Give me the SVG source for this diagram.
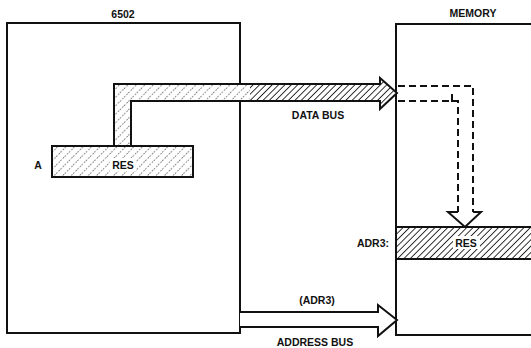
<svg xmlns="http://www.w3.org/2000/svg" width="531" height="348" viewBox="0 0 531 348">
<style>
.t{font-family:"Liberation Sans",Arial,sans-serif;font-weight:bold;font-size:10.5px;fill:#111}
.box{fill:#fff;stroke:#111;stroke-width:2}
.ln{fill:none;stroke:#111;stroke-width:2}
.dash{fill:none;stroke:#111;stroke-width:2;stroke-dasharray:7,4}
</style>
<defs>
<pattern id="hatch" patternUnits="userSpaceOnUse" width="4.5" height="4.5" patternTransform="rotate(45)">
<rect width="4.5" height="4.5" fill="#fff"/>
<line x1="0" y1="0" x2="0" y2="4.5" stroke="#111" stroke-width="1.7"/>
</pattern>
<pattern id="stip" patternUnits="userSpaceOnUse" width="6" height="6" patternTransform="rotate(45)">
<rect width="6" height="6" fill="#fff"/>
<line x1="0" y1="0" x2="0" y2="6" stroke="#111" stroke-width="1.2" stroke-dasharray="1.5,2"/>
</pattern>
<clipPath id="right"><rect x="250" y="0" width="281" height="348"/></clipPath>
</defs>

<g id="cpu">
<rect class="box" x="7" y="23" width="233" height="310"/>
<text class="t" x="123" y="18" text-anchor="middle">6502</text>
</g>

<g id="memory">
<path class="ln" d="M531,24 H396 V335 H531"/>
<text class="t" x="473" y="17" text-anchor="middle">MEMORY</text>
</g>

<g id="adr3-row">
<rect x="396" y="227" width="140" height="32" fill="url(#hatch)" stroke="#111" stroke-width="2"/>
<rect x="453" y="236" width="27" height="13" fill="#fff"/>
<text class="t" x="466" y="247" text-anchor="middle">RES</text>
<text class="t" x="389" y="247" text-anchor="end">ADR3:</text>
</g>

<g id="connectors">
<g id="data-bus">
<path d="M114,146 V84 H380 V78 L397,93 L380,109 V101 H131 V146 Z" fill="url(#stip)"/>
<path d="M114,146 V84 H380 V78 L397,93 L380,109 V101 H131 V146 Z" fill="url(#hatch)" clip-path="url(#right)"/>
<path d="M114,146 V84 H380 V78 L397,93 L380,109 V101 H131 V146" class="ln" stroke-linejoin="miter"/>
<text class="t" x="318" y="119" text-anchor="middle">DATA BUS</text>
</g>
<g id="mem-transfer">
<path class="dash" d="M398,86 H473 V212"/>
<path class="dash" d="M398,101 H458 V212"/>
<path class="ln" d="M452,94 V101 H457" stroke-width="1.5"/>
<path class="ln" d="M458,212 H448 L465,227 L481,212 H473" stroke-linejoin="miter"/>
</g>
<g id="address-bus">
<path d="M240,312 H378 V305 L397,320 L378,336 V327 H240 Z" fill="#fff"/>
<path class="ln" d="M240,312 H378 V305 L397,320 L378,336 V327 H240" stroke-linejoin="miter"/>
<text class="t" x="317" y="304" text-anchor="middle">(ADR3)</text>
<text class="t" x="315" y="346" text-anchor="middle">ADDRESS BUS</text>
</g>
</g>

<g id="reg-a">
<rect x="52" y="146" width="141" height="31" fill="url(#stip)" stroke="#111" stroke-width="2"/>
<rect x="110" y="158" width="26" height="13" fill="#fff"/>
<text class="t" x="123" y="169" text-anchor="middle">RES</text>
<text class="t" x="38" y="169" text-anchor="middle">A</text>
</g>
</svg>
